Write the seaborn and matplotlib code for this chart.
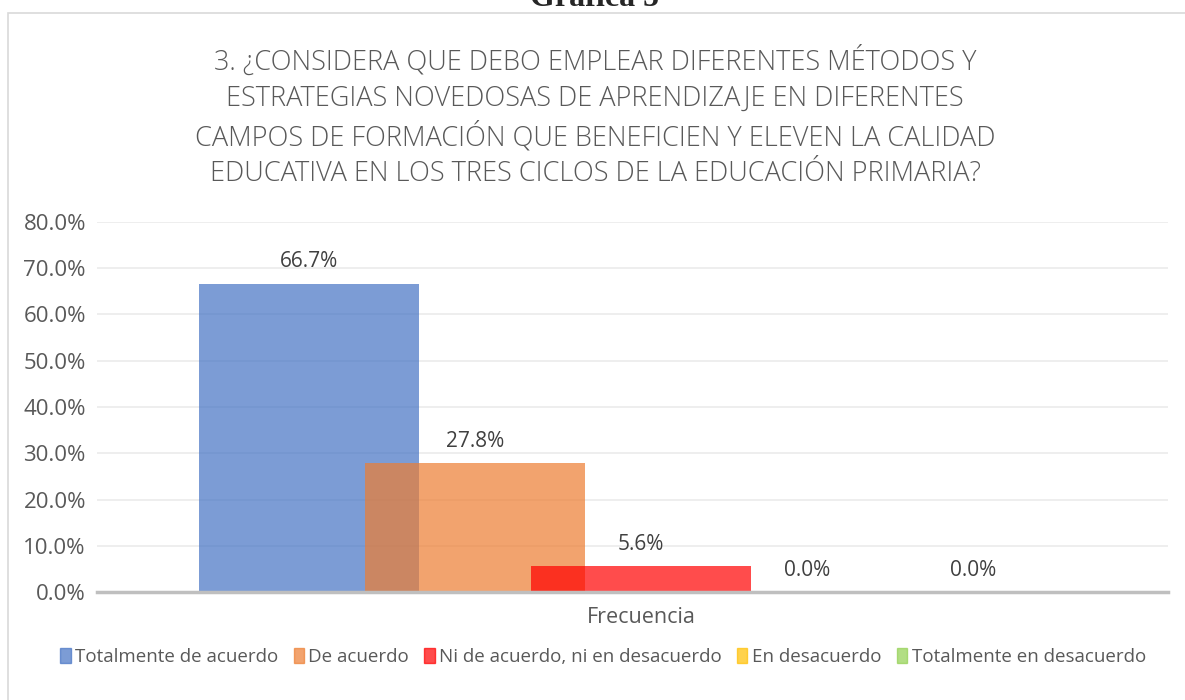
import numpy as np
import pandas as pd
import matplotlib.pyplot as plt
import matplotlib.patches as mpatches
import seaborn as sns

categorias = ['Totalmente de acuerdo', 'De acuerdo', 'Ni de acuerdo, ni en desacuerdo',
              'En desacuerdo', 'Totalmente en desacuerdo']
valores = [0.667, 0.278, 0.056, 0.0, 0.0]
grupo = ['Frecuencia'] * 5
colores = ['#4472C4', '#ED7D31', '#FF0000', '#FFC000', '#92D050']
titulo = ('3. ¿CONSIDERA QUE DEBO EMPLEAR DIFERENTES MÉTODOS Y\n'
          'ESTRATEGIAS NOVEDOSAS DE APRENDIZAJE EN DIFERENTES\n'
          'CAMPOS DE FORMACIÓN QUE BENEFICIEN Y ELEVEN LA CALIDAD\n'
          'EDUCATIVA EN LOS TRES CICLOS DE LA EDUCACIÓN PRIMARIA?')

df = pd.DataFrame({'grupo': grupo, 'respuesta': categorias, 'valor': valores})

sns.set_style('white')
plt.rcParams['font.family'] = ['Open Sans', 'DejaVu Sans']
gris = '#595959'

fig = plt.figure(figsize=(11.85, 7), dpi=100)
ax = fig.add_axes([97 / 1185, (700 - 592) / 700, (1168 - 97) / 1185, (592 - 222) / 700])

sns.barplot(data=df, x='grupo', y='valor', hue='respuesta', hue_order=categorias,
            palette=colores, width=0.8, alpha=0.7, saturation=1, legend=False, ax=ax)

# Excel-style overlap: widen each bar around its centre
paso = 0.8 / 5
for p in ax.patches:
    c = p.get_x() + p.get_width() / 2
    w = paso * 1.33
    p.set_x(c - w / 2)
    p.set_width(w)
    p.set_edgecolor('none')

for p, v in zip(ax.patches, valores):
    ax.text(p.get_x() + p.get_width() / 2, v + 0.024, f'{v * 100:.1f}%',
            ha='center', va='bottom', fontsize=15, color='#404040')

per_px = paso / 166
ax.set_xlim(-(641 - 97) * per_px, (1168 - 641) * per_px)
ax.set_ylim(0, 0.8)
ax.set_yticks(np.arange(0, 0.81, 0.1))
ax.set_yticklabels([f'{t * 100:.1f}%' for t in np.arange(0, 0.81, 0.1)])
ax.yaxis.grid(True, color='#EBEBEB', linewidth=1.2)
ax.set_axisbelow(True)
for s in ['top', 'right', 'left']:
    ax.spines[s].set_visible(False)
ax.spines['bottom'].set_color('#BFBFBF')
ax.spines['bottom'].set_linewidth(2.5)
ax.tick_params(axis='both', length=0, labelsize=16, colors=gris, pad=8)
ax.tick_params(axis='x', labelsize=15.5, pad=11)
ax.set_xlabel('')
ax.set_ylabel('')

handles = [mpatches.Patch(color=c, alpha=0.7, label=l) for c, l in zip(colores, categorias)]
fig.legend(handles=handles, loc='center', bbox_to_anchor=(603 / 1185, 1 - 657 / 700), ncol=5,
           frameon=False, fontsize=13.5, handlelength=0.55, handleheight=0.85,
           handletextpad=0.25, columnspacing=0.8, labelcolor=gris)

fig.text(595 / 1185, 1 - 117 / 700, titulo, ha='center', va='center', fontsize=19.5,
         fontweight='light', color=gris, linespacing=1.37)
fig.text(595 / 1185, 1 - 6.5 / 700, 'Gráfica 5', ha='center', va='baseline', fontsize=23,
         fontweight='bold', family=['Liberation Serif', 'DejaVu Serif'])

fig.patches.append(mpatches.Rectangle((8 / 1185, -0.01), 1.1, 1 - 13 / 700 + 0.01,
                                      transform=fig.transFigure, fill=False,
                                      edgecolor='#D9D9D9', linewidth=1.2))

fig.savefig('out.png', dpi=100)
